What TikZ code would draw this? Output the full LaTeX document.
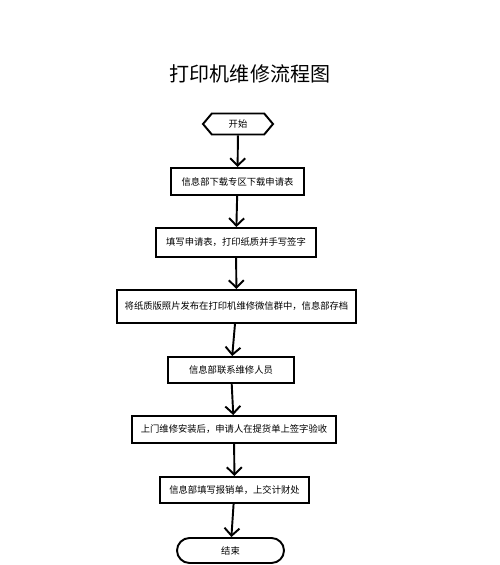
\documentclass[tikz,border=0pt]{standalone}
\usepackage{fontspec}
\setmainfont{Noto Sans CJK SC}
\usepackage{tikz}
\usetikzlibrary{arrows,arrows.meta}
\usetikzlibrary{shapes}
\tikzstyle{flowbox}=[draw, line width=1.1pt, fill=white, inner sep=0pt, font=\fontsize{5.3}{6}\selectfont]
\tikzstyle{flowline}=[-{Straight Barb[length=1.5mm,width=3mm]}, line width=1.1pt]
\newcommand{\procbox}[5]{
	\node[flowbox, minimum width=#3cm, minimum height=#4cm] (#1) at #2 {#5};
}

\begin{document}
\begin{tikzpicture}
	\useasboundingbox (0,0) rectangle (10,-11.3);
	\node (title) at (5,-1.48) {\fontsize{11.4}{13}\selectfont 打印机维修流程图};
%
	\node[flowbox, signal, signal to=west and east, signal pointer angle=100,
		minimum width=1.4cm, minimum height=.42cm] (start) at (4.76,-2.48) {开始};
	\procbox{apply}{(4.75,-3.63)}{2.66}{.54}{信息部下载专区下载申请表}
	\procbox{fill}{(4.72,-4.85)}{3.2}{.58}{填写申请表，打印纸质并手写签字}
	\procbox{post}{(4.73,-6.13)}{4.78}{.66}{将纸质版照片发布在打印机维修微信群中，信息部存档}
	\procbox{contact}{(4.62,-7.4)}{2.52}{.52}{信息部联系维修人员}
	\procbox{repair}{(4.68,-8.59)}{4.08}{.54}{上门维修安装后，申请人在提货单上签字验收}
	\procbox{claim}{(4.69,-9.8)}{2.98}{.52}{信息部填写报销单，上交计财处}
	\node[flowbox, rounded corners=.25cm, minimum width=2.14cm, minimum height=.5cm] (stop) at (4.61,-11.01) {结束};
%
	\draw[flowline] (start) -- (apply);
	\draw[flowline] (apply) -- (fill);
	\draw[flowline] (fill) -- (post);
	\draw[flowline] (post) -- (contact);
	\draw[flowline] (contact) -- (repair);
	\draw[flowline] (repair) -- (claim);
	\draw[flowline] (claim) -- (stop);
\end{tikzpicture}
\end{document}
